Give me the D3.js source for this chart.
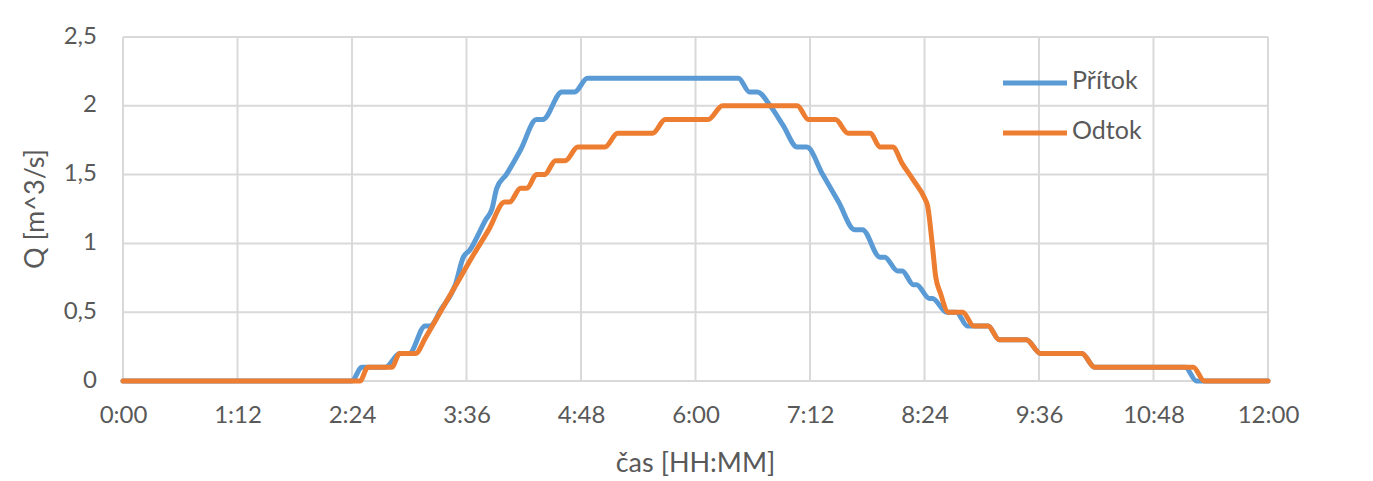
<!DOCTYPE html>
<html>
<head>
<meta charset="utf-8">
<script src="https://cdn.jsdelivr.net/npm/d3@7"></script>
<style>
  html, body { margin: 0; padding: 0; background: #fff; }
  svg text { font-family: Lato, "Open Sans", sans-serif; fill: #595959; }
</style>
</head>
<body>
<svg id="chart" width="1373" height="481"></svg>
<script>
// Přítok (inflow) hydrograph: time in minutes from 0:00, discharge in m^3/s
const pritokTime = [0, 144, 150, 165, 174, 180, 190, 193, 200, 209, 214, 218, 228, 232, 235, 241, 250, 260, 264, 276, 284, 292, 387, 394, 399, 407, 415, 424, 430, 440, 450, 460, 465, 476, 479, 487, 490, 497, 499, 507, 509, 518, 524, 531, 544, 551, 568, 577, 603, 611, 668, 675, 720];
const pritokQ    = [0, 0, 0.1, 0.1, 0.2, 0.2, 0.4, 0.4, 0.52, 0.7, 0.9, 0.95, 1.17, 1.25, 1.4, 1.5, 1.68, 1.9, 1.9, 2.1, 2.1, 2.2, 2.2, 2.1, 2.1, 2.0, 1.86, 1.7, 1.7, 1.5, 1.3, 1.1, 1.1, 0.9, 0.9, 0.8, 0.8, 0.7, 0.7, 0.6, 0.6, 0.5, 0.5, 0.4, 0.4, 0.3, 0.3, 0.2, 0.2, 0.1, 0.1, 0, 0];

// Odtok (outflow) hydrograph
const odtokTime = [0, 149, 154, 169, 174, 184, 190, 200, 209, 220, 230, 240, 243, 250, 254, 260, 265, 272, 278, 286, 303, 311, 333, 341, 368, 377, 424, 431, 448, 456, 470, 476, 484, 490, 497, 504, 506, 509, 511, 514, 519, 528, 535, 544, 551, 568, 577, 603, 611, 673, 680, 720];
const odtokQ    = [0, 0, 0.1, 0.1, 0.2, 0.2, 0.31, 0.51, 0.69, 0.91, 1.1, 1.3, 1.3, 1.4, 1.4, 1.5, 1.5, 1.6, 1.6, 1.7, 1.7, 1.8, 1.8, 1.9, 1.9, 2.0, 2.0, 1.9, 1.9, 1.8, 1.8, 1.7, 1.7, 1.58, 1.46, 1.33, 1.27, 0.98, 0.76, 0.64, 0.5, 0.5, 0.4, 0.4, 0.3, 0.3, 0.2, 0.2, 0.1, 0.1, 0, 0];

const xTicks = [0, 72, 144, 216, 288, 360, 432, 504, 576, 648, 720];
const xTickLabels = ["0:00", "1:12", "2:24", "3:36", "4:48", "6:00", "7:12", "8:24", "9:36", "10:48", "12:00"];
const yTicks = [0, 0.5, 1, 1.5, 2, 2.5];
const yTickLabels = ["0", "0,5", "1", "1,5", "2", "2,5"];

const seriesNames = ["Přítok", "Odtok"];
const seriesColors = ["#5B9BD5", "#ED7D31"];

const svg = d3.select("#chart");
const plot = { left: 123, right: 1268, top: 37, bottom: 381 };

const x = d3.scaleLinear().domain([0, 720]).range([plot.left, plot.right]);
const y = d3.scaleLinear().domain([0, 2.5]).range([plot.bottom, plot.top]);

// gridlines
const grid = svg.append("g").attr("stroke", "#D9D9D9").attr("stroke-width", 2);
grid.selectAll("line.v").data(xTicks).join("line")
  .attr("x1", d => x(d)).attr("x2", d => x(d))
  .attr("y1", plot.top).attr("y2", plot.bottom);
grid.selectAll("line.h").data(yTicks).join("line")
  .attr("x1", plot.left).attr("x2", plot.right)
  .attr("y1", d => y(d)).attr("y2", d => y(d));

// x axis labels
const xAxis = d3.axisBottom(x).tickValues(xTicks)
  .tickFormat((d, i) => xTickLabels[i]).tickSize(0).tickPadding(0);
const gx = svg.append("g").attr("transform", `translate(0,${plot.bottom})`).call(xAxis);
gx.select(".domain").remove();
gx.selectAll("text").attr("dy", null).attr("y", 36).attr("dominant-baseline", "middle")
  .style("font-size", "24px").attr("fill", "#595959");

// y axis labels
const yAxis = d3.axisLeft(y).tickValues(yTicks)
  .tickFormat((d, i) => yTickLabels[i]).tickSize(0).tickPadding(0);
const gy = svg.append("g").attr("transform", `translate(${plot.left},0)`).call(yAxis);
gy.select(".domain").remove();
gy.selectAll("text").attr("dy", null).attr("x", -26).attr("dominant-baseline", "middle")
  .style("font-size", "24px").attr("fill", "#595959");

// axis titles
svg.append("text").attr("x", (plot.left + plot.right) / 2).attr("y", 465)
  .attr("text-anchor", "middle").attr("dominant-baseline", "middle")
  .style("font-size", "27px").text("čas [HH:MM]");
svg.append("text")
  .attr("transform", `translate(37,${(plot.top + plot.bottom) / 2}) rotate(-90)`)
  .attr("text-anchor", "middle").attr("dominant-baseline", "middle")
  .style("font-size", "27px").text("Q [m^3/s]");

// series lines
const line = d3.line().x(d => x(d[0])).y(d => y(d[1])).curve(d3.curveMonotoneX);
const series = [
  d3.zip(pritokTime, pritokQ),
  d3.zip(odtokTime, odtokQ)
];
svg.append("g").selectAll("path").data(series).join("path")
  .attr("d", line)
  .attr("fill", "none")
  .attr("stroke", (d, i) => seriesColors[i])
  .attr("stroke-width", 5)
  .attr("stroke-linejoin", "round")
  .attr("stroke-linecap", "round");

// legend
const legend = svg.append("g").selectAll("g").data(seriesNames).join("g")
  .attr("transform", (d, i) => `translate(1003,${83 + i * 50})`);
legend.append("line").attr("x1", 0).attr("x2", 64).attr("y1", 0).attr("y2", 0)
  .attr("stroke", (d, i) => seriesColors[i]).attr("stroke-width", 5);
legend.append("text").attr("x", 69).attr("y", 0).attr("dominant-baseline", "middle")
  .style("font-size", "25px").text(d => d);
</script>
</body>
</html>
